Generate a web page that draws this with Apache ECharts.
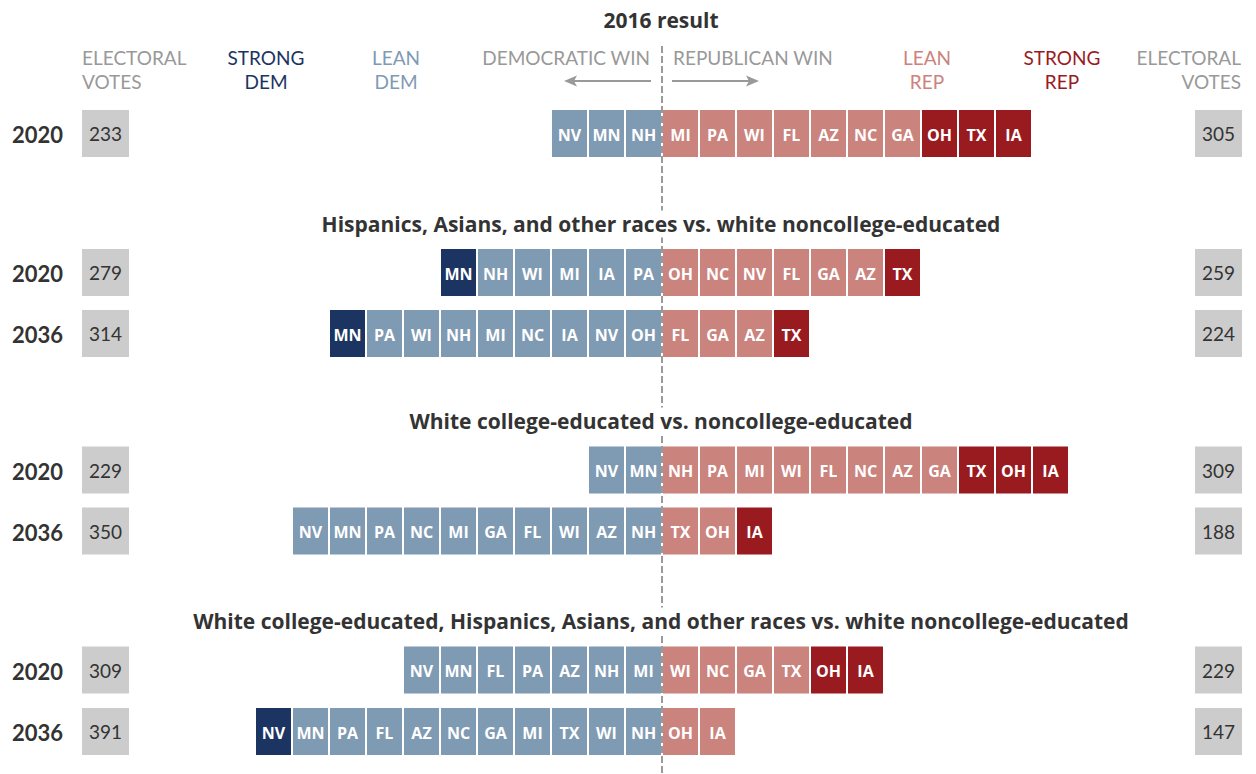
<!DOCTYPE html>
<html>
<head>
<meta charset="utf-8">
<script src="https://cdn.jsdelivr.net/npm/echarts@6/dist/echarts.min.js"></script>
<style>
html,body{margin:0;padding:0;background:#fff;}
#chart{width:1256px;height:774px;}
</style>
</head>
<body>
<div id="chart"></div>
<script>
// ---------------- DATA ----------------
const groupTitles = [
  '2016 result',
  'Hispanics, Asians, and other races vs. white noncollege-educated',
  'White college-educated vs. noncollege-educated',
  'White college-educated, Hispanics, Asians, and other races vs. white noncollege-educated'
];
const rowYears = ['2020', '2020', '2036', '2020', '2036', '2020', '2036'];
const demEV = [233, 279, 314, 229, 350, 309, 391];
const repEV = [305, 259, 224, 309, 188, 229, 147];
// Democratic states, listed left (outermost) to right (next to the centre line)
const demStates = [
  ['NV', 'MN', 'NH'],
  ['MN', 'NH', 'WI', 'MI', 'IA', 'PA'],
  ['MN', 'PA', 'WI', 'NH', 'MI', 'NC', 'IA', 'NV', 'OH'],
  ['NV', 'MN'],
  ['NV', 'MN', 'PA', 'NC', 'MI', 'GA', 'FL', 'WI', 'AZ', 'NH'],
  ['NV', 'MN', 'FL', 'PA', 'AZ', 'NH', 'MI'],
  ['NV', 'MN', 'PA', 'FL', 'AZ', 'NC', 'GA', 'MI', 'TX', 'WI', 'NH']
];
// ratings: S = strong, L = lean
const demRatings = [
  ['L', 'L', 'L'],
  ['S', 'L', 'L', 'L', 'L', 'L'],
  ['S', 'L', 'L', 'L', 'L', 'L', 'L', 'L', 'L'],
  ['L', 'L'],
  ['L', 'L', 'L', 'L', 'L', 'L', 'L', 'L', 'L', 'L'],
  ['L', 'L', 'L', 'L', 'L', 'L', 'L'],
  ['S', 'L', 'L', 'L', 'L', 'L', 'L', 'L', 'L', 'L', 'L']
];
// Republican states, listed left (next to the centre line) to right
const repStates = [
  ['MI', 'PA', 'WI', 'FL', 'AZ', 'NC', 'GA', 'OH', 'TX', 'IA'],
  ['OH', 'NC', 'NV', 'FL', 'GA', 'AZ', 'TX'],
  ['FL', 'GA', 'AZ', 'TX'],
  ['NH', 'PA', 'MI', 'WI', 'FL', 'NC', 'AZ', 'GA', 'TX', 'OH', 'IA'],
  ['TX', 'OH', 'IA'],
  ['WI', 'NC', 'GA', 'TX', 'OH', 'IA'],
  ['OH', 'IA']
];
const repRatings = [
  ['L', 'L', 'L', 'L', 'L', 'L', 'L', 'S', 'S', 'S'],
  ['L', 'L', 'L', 'L', 'L', 'L', 'S'],
  ['L', 'L', 'L', 'S'],
  ['L', 'L', 'L', 'L', 'L', 'L', 'L', 'L', 'S', 'S', 'S'],
  ['L', 'L', 'S'],
  ['L', 'L', 'L', 'L', 'S', 'S'],
  ['L', 'L']
];

// ---------------- LAYOUT / STYLE ----------------
const FONT = 'Lato, "Open Sans", sans-serif';
const TITLE_FONT = '"Open Sans", Lato, sans-serif';
const COLORS = {
  demS: '#1c3461', demL: '#7f9ab3', repL: '#cb837d', repS: '#991b1f',
  gray: '#999999', box: '#cccccc', text: '#333333'
};
const rowY = [133.5, 272.5, 333.5, 470, 531, 670, 731.5];
const titleY = [20, 224, 421, 621];
const TILE_H = 47;

// build tiles (slot index along x: dem tiles negative, rep tiles positive)
const tiles = [];
demStates.forEach((row, r) => {
  const n = row.length;
  row.forEach((st, k) => {
    tiles.push({ value: [-(n - k), r], label: st,
      color: demRatings[r][k] === 'S' ? COLORS.demS : COLORS.demL });
  });
});
repStates.forEach((row, r) => {
  row.forEach((st, k) => {
    tiles.push({ value: [k, r], label: st,
      color: repRatings[r][k] === 'S' ? COLORS.repS : COLORS.repL });
  });
});

const chart = echarts.init(document.getElementById('chart'), null, { renderer: 'svg' });

function renderTile(params, api) {
  const t = tiles[params.dataIndex];
  const x0 = api.value(0), r = api.value(1);
  const p0 = api.coord([x0, rowY[r]]);
  const p1 = api.coord([x0 + 1, rowY[r]]);
  const w = p1[0] - p0[0];
  return {
    type: 'group',
    children: [
      { type: 'rect', shape: { x: p0[0] + 1, y: p0[1] - TILE_H / 2, width: w - 2, height: TILE_H },
        style: { fill: t.color } },
      { type: 'text', style: { x: p0[0] + w / 2, y: p0[1] + 1, text: t.label, fill: '#fff',
        font: 'bold 16px ' + TITLE_FONT, align: 'center', verticalAlign: 'middle' } }
    ]
  };
}

function renderRowLabels(params, api) {
  const r = api.value(0);
  const y = api.coord([0, rowY[r]])[1];
  return {
    type: 'group',
    children: [
      { type: 'text', style: { x: 12, y: y + 1, text: rowYears[r], fill: COLORS.text,
        font: 'bold 22px ' + FONT, align: 'left', verticalAlign: 'middle' } },
      { type: 'rect', shape: { x: 82, y: y - TILE_H / 2, width: 47, height: TILE_H }, style: { fill: COLORS.box } },
      { type: 'text', style: { x: 105.5, y: y, text: String(demEV[r]), fill: COLORS.text,
        font: '19px ' + FONT, align: 'center', verticalAlign: 'middle' } },
      { type: 'rect', shape: { x: 1195, y: y - TILE_H / 2, width: 47, height: TILE_H }, style: { fill: COLORS.box } },
      { type: 'text', style: { x: 1218.5, y: y, text: String(repEV[r]), fill: COLORS.text,
        font: '19px ' + FONT, align: 'center', verticalAlign: 'middle' } }
    ]
  };
}

const graphics = [];
// centre dashed line
graphics.push({ type: 'line', shape: { x1: 662, y1: 46, x2: 662, y2: 774 },
  style: { stroke: '#9a9a9a', lineWidth: 2, lineDash: [7, 3] }, z: 0 });
// titles (white backing hides the centre line behind the text)
groupTitles.forEach((t, i) => {
  graphics.push({ type: 'text', x: 661, y: titleY[i], style: { text: t, fill: COLORS.text,
    font: 'bold 21px ' + TITLE_FONT, align: 'center', verticalAlign: 'middle',
    backgroundColor: '#ffffff', padding: [3, 4] }, z: 10 });
});
// column headers
function header(x, text, color, align) {
  graphics.push({ type: 'text', x: x, y: 45, style: { text: text, fill: color,
    font: '19px ' + FONT, align: align, verticalAlign: 'top', lineHeight: 24 }, z: 10 });
}
header(82, 'ELECTORAL\nVOTES', COLORS.gray, 'left');
header(266, 'STRONG\nDEM', COLORS.demS, 'center');
header(396, 'LEAN\nDEM', COLORS.demL, 'center');
header(650, 'DEMOCRATIC WIN', COLORS.gray, 'right');
header(673, 'REPUBLICAN WIN', COLORS.gray, 'left');
header(927, 'LEAN\nREP', COLORS.repL, 'center');
header(1062, 'STRONG\nREP', COLORS.repS, 'center');
header(1241, 'ELECTORAL\nVOTES', COLORS.gray, 'right');
// arrows
graphics.push({ type: 'line', shape: { x1: 651, y1: 81, x2: 568, y2: 81 }, style: { stroke: COLORS.gray, lineWidth: 2 }, z: 10 });
graphics.push({ type: 'polygon', shape: { points: [[564, 81], [577, 75.5], [574, 81], [577, 86.5]] }, style: { fill: COLORS.gray }, z: 10 });
graphics.push({ type: 'line', shape: { x1: 672, y1: 81, x2: 755, y2: 81 }, style: { stroke: COLORS.gray, lineWidth: 2 }, z: 10 });
graphics.push({ type: 'polygon', shape: { points: [[759, 81], [746, 75.5], [749, 81], [746, 86.5]] }, style: { fill: COLORS.gray }, z: 10 });

chart.setOption({
  animation: false,
  backgroundColor: '#ffffff',
  grid: { left: 218, right: 150, top: 0, bottom: 0 },
  xAxis: { type: 'value', min: -12, max: 12, show: false },
  yAxis: { type: 'value', min: 0, max: 774, inverse: true, show: false },
  graphic: graphics,
  series: [
    { type: 'custom', name: 'tiles', renderItem: renderTile, data: tiles.map(t => t.value),
      encode: { x: 0, y: 1 }, z: 5, silent: true, clip: false },
    { type: 'custom', name: 'rows', renderItem: renderRowLabels, data: rowYears.map((y, i) => [i]),
      encode: { x: 0 }, z: 5, silent: true, clip: false }
  ]
});
</script>
</body>
</html>
